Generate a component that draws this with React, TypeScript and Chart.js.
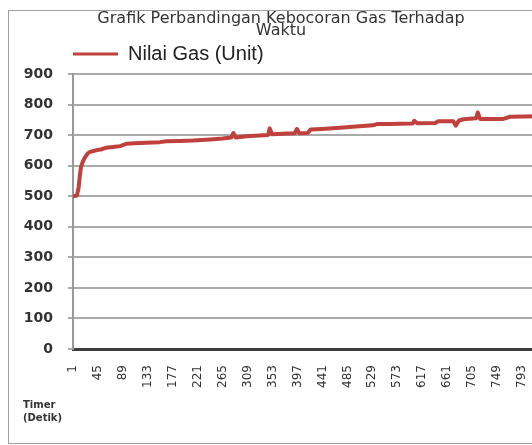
import React, { useEffect, useRef } from "react";
import { Chart, registerables } from "chart.js";

Chart.register(...registerables);

const chartTitle = ["Grafik Perbandingan Kebocoran Gas Terhadap", "Waktu"];
const seriesLabel = "Nilai Gas (Unit)";
const axisTitle = ["Timer", "(Detik)"];

const timeValues = [
  1, 8, 11, 13, 15, 18, 22, 27, 31, 37,
  43, 50, 60, 75, 84, 90, 96, 110, 130, 154,
  166, 190, 213, 243, 265, 280, 284, 288, 307, 330,
  345, 348, 352, 380, 392, 396, 400, 415, 420, 440,
  478, 500, 530, 537, 560, 578, 600, 603, 608, 640,
  645, 672, 676, 682, 690, 712, 715, 719, 760, 772,
  823,
];
const gasValues = [
  500, 502, 530, 566, 595, 612, 627, 640, 645, 648,
  651, 653, 659, 662, 664, 668, 672, 673, 675, 677,
  680, 681, 682, 686, 689, 692, 707, 692, 696, 699,
  700, 722, 703, 705, 706, 720, 706, 707, 718, 720,
  725, 728, 732, 736, 736, 737, 738, 747, 739, 740,
  745, 745, 731, 748, 752, 755, 774, 753, 753, 760,
  762,
];
const xTickLabels = [1, 45, 89, 133, 177, 221, 265, 309, 353, 397, 441, 485, 529, 573, 617, 661, 705, 749, 793];
const yMin = 0;
const yMax = 900;
const yStep = 100;
const xMin = 1;
const xMax = 823;

const RED = "#c0403d";

export default function App() {
  const ref = useRef<HTMLCanvasElement>(null);

  useEffect(() => {
    if (!ref.current) return;
    const chart = new Chart(ref.current, {
      type: "line",
      data: {
        datasets: [
          {
            label: seriesLabel,
            data: timeValues.map((t, i) => ({ x: t, y: gasValues[i] })),
            borderColor: RED,
            backgroundColor: RED,
            borderWidth: 4,
            pointRadius: 0,
            pointHoverRadius: 0,
            tension: 0,
            fill: false,
            borderJoinStyle: "round",
            borderCapStyle: "round",
          },
        ],
      },
      options: {
        animation: false,
        responsive: false,
        layout: { padding: { left: 0, right: 0, top: 0, bottom: 18 } },
        plugins: {
          title: {
            display: true,
            text: chartTitle,
            color: "#333",
            font: { family: "'DejaVu Sans', sans-serif", size: 16, weight: "normal", lineHeight: 0.75 },
            padding: { top: 4, bottom: 7 },
          },
          subtitle: {
            display: true,
            position: "bottom",
            align: "start",
            text: axisTitle,
            color: "#333",
            font: { family: "'DejaVu Sans', sans-serif", size: 10, weight: "bold", lineHeight: 1.3 },
            padding: 0,
          },
          legend: {
            display: true,
            position: "top",
            align: "start",
            fullSize: false,
            labels: {
              boxWidth: 45,
              boxHeight: 3,
              padding: 0,
              color: "#222",
              font: { family: "'Liberation Sans', Arial, sans-serif", size: 20 },
              generateLabels: (c: any) =>
                (Chart.defaults.plugins.legend.labels.generateLabels as any)(c).map((l: any) => ({
                  ...l,
                  lineWidth: 0,
                  fillStyle: RED,
                })),
            },
          },
          tooltip: { enabled: false },
        },
        scales: {
          x: {
            type: "linear",
            min: xMin,
            max: xMax,
            afterBuildTicks: (s: any) => {
              s.ticks = xTickLabels.map((v) => ({ value: v }));
            },
            afterFit: (s: any) => {
              s.height = 50;
            },
            ticks: {
              autoSkip: false,
              minRotation: 90,
              maxRotation: 90,
              padding: 0,
              color: "#333",
              font: { family: "'DejaVu Sans', sans-serif", size: 12 },
              callback: (v: any) => String(v),
            },
            grid: { display: false, drawTicks: true, tickLength: 16 },
            border: { display: true, color: "#3c3c3c", width: 3 },
          },
          y: {
            type: "linear",
            min: yMin,
            max: yMax,
            afterFit: (s: any) => {
              s.width = 50;
            },
            ticks: {
              stepSize: yStep,
              padding: 15,
              color: "#333",
              font: { family: "'DejaVu Sans', sans-serif", size: 14, weight: "bold" },
            },
            grid: { color: "#aaaaaa", lineWidth: 2, drawTicks: true, tickLength: 5, tickColor: "#aaaaaa" },
            border: { display: true, color: "#999999", width: 2 },
          },
        },
      },
    });
    return () => chart.destroy();
  }, []);

  return (
    <div style={{ position: "absolute", left: 0, top: 0, width: 532, height: 445, overflow: "hidden", background: "#fff" }}>
      <div
        style={{
          position: "absolute",
          left: 8,
          top: 10,
          width: 700,
          height: 432,
          border: "1px solid #a0a0a0",
          background: "#fff",
        }}
      />
      <canvas ref={ref} width={516} height={434} style={{ position: "absolute", left: 23, top: 9, width: 516, height: 434 }} />
    </div>
  );
}
